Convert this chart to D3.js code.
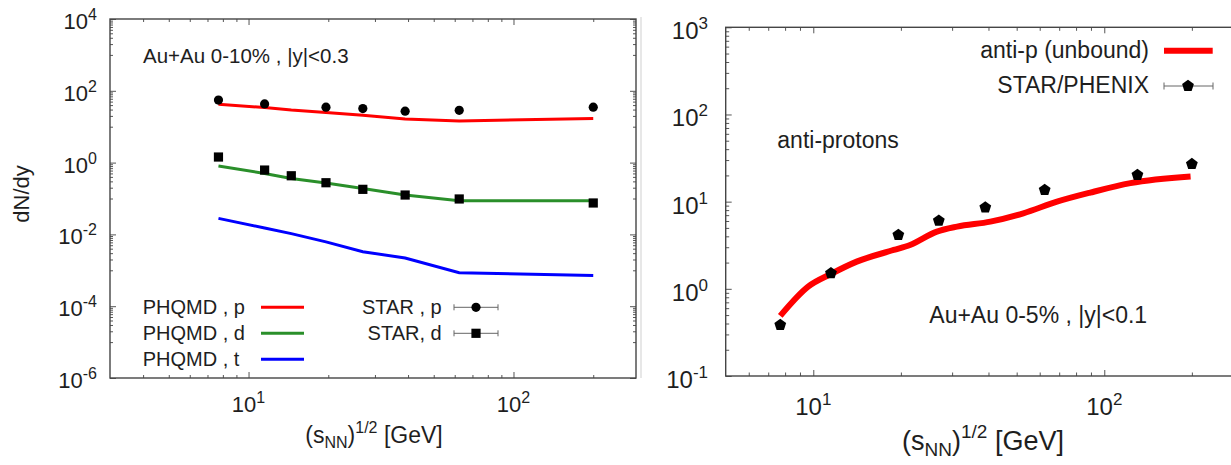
<!DOCTYPE html>
<html>
<head>
<meta charset="utf-8">
<script src="https://cdn.jsdelivr.net/npm/d3@7"></script>
<style>
  html, body { margin: 0; padding: 0; background: #fff; }
  svg { display: block; font-family: "Liberation Sans", Arial, Helvetica, sans-serif; }
</style>
</head>
<body>
<svg id="chart" width="1231" height="465"></svg>
<script>
// ---- Left panel: yields of p, d, t vs collision energy ----
const energies = [7.7, 11.5, 14.5, 19.6, 27, 39, 62.4, 200];
const phqmdP = [42, 34, 29, 25, 21, 16.4, 14.4, 17];
const phqmdD = [0.80, 0.50, 0.36, 0.27, 0.19, 0.125, 0.086, 0.086];
const phqmdT = [0.028, 0.015, 0.0105, 0.0062, 0.0033, 0.0022, 0.00086, 0.00072];

const starPEnergies = [7.7, 11.5, 19.6, 27, 39, 62.4, 200];
const starP = [55, 43, 35, 32, 27, 28.6, 35];
const starDEnergies = [7.7, 11.5, 14.5, 19.6, 27, 39, 62.4, 200];
const starD = [1.43, 0.62, 0.43, 0.275, 0.18, 0.125, 0.097, 0.075];

const leftYTickExp = [-6, -4, -2, 0, 2, 4];
const leftXTickExp = [1, 2];

// ---- Right panel: anti-protons vs collision energy ----
const pbarModelEnergies = [7.7, 9.6, 11.5, 14.1, 18.9, 21.5, 26.6, 31.2, 40.6, 52.7, 68.8, 89.5, 123, 198];
const pbarModel = [0.49, 1.06, 1.48, 2.05, 2.79, 3.18, 4.53, 5.17, 5.9, 7.36, 10.0, 12.7, 16.3, 19.4];
const pbarDataEnergies = [7.7, 11.5, 19.6, 27, 39, 62.4, 130, 200];
const pbarData = [0.385, 1.51, 4.15, 6.05, 8.6, 13.6, 20.2, 27];

const rightYTickExp = [-1, 0, 1, 2, 3];
const rightXTickExp = [1, 2];

const svg = d3.select("#chart");
const TEXT = "#1e1e1e";
const FRAME = "#454545";

// faint border of the left sub-figure
svg.append("line").attr("x1", 641).attr("x2", 641).attr("y1", 17).attr("y2", 378)
  .attr("stroke", "#cfcfcf").attr("stroke-width", 1);

function pentagonPath(r) {
  const pts = d3.range(5).map(i => {
    const a = -Math.PI / 2 + i * 2 * Math.PI / 5;
    return [r * Math.cos(a), r * Math.sin(a)];
  });
  return "M" + pts.map(p => p.join(",")).join("L") + "Z";
}

// log minor ticks m * 10^k for m = 2..9
function logMinors(kFrom, kTo) {
  const out = [];
  for (let k = kFrom; k <= kTo; k++) for (let m = 2; m <= 9; m++) out.push(m * Math.pow(10, k));
  return out;
}

function drawTicks(g, x, y, xMajor, xMinor, yMajor, yMinor, majLen, minLen) {
  const [x0, x1] = x.range();
  const [y1, y0] = y.range();
  const style = sel => {
    sel.select(".domain").remove();
    sel.selectAll("line").attr("stroke", "#555").attr("stroke-width", 1);
  };
  const mk = (axisFn, scale, vals, len, tx, ty) => {
    g.append("g").attr("transform", `translate(${tx},${ty})`)
      .call(axisFn(scale).tickValues(vals).tickSize(len).tickFormat(""))
      .call(style);
  };
  mk(d3.axisTop, x, xMajor, majLen, 0, y1);
  mk(d3.axisTop, x, xMinor, minLen, 0, y1);
  mk(d3.axisBottom, x, xMajor, majLen, 0, y0);
  mk(d3.axisBottom, x, xMinor, minLen, 0, y0);
  mk(d3.axisRight, y, yMajor, majLen, x0, 0);
  mk(d3.axisRight, y, yMinor, minLen, x0, 0);
  mk(d3.axisLeft, y, yMajor, majLen, x1, 0);
  mk(d3.axisLeft, y, yMinor, minLen, x1, 0);
  g.append("rect").attr("x", x0).attr("y", y0).attr("width", x1 - x0).attr("height", y1 - y0)
    .attr("fill", "none").attr("stroke", FRAME).attr("stroke-width", 1.4);
}

function powerLabel(g, x, y, exp, size, supSize, anchor, raise) {
  const t = g.append("text").attr("x", x).attr("y", y).attr("text-anchor", anchor)
    .attr("fill", TEXT).attr("font-size", size);
  t.append("tspan").text("10");
  t.append("tspan").attr("font-size", supSize).attr("dy", -raise).text(String(exp));
}

function energyTitle(g, cx, y, size, small, drop, raise) {
  const t = g.append("text").attr("x", cx).attr("y", y).attr("text-anchor", "middle")
    .attr("fill", TEXT).attr("font-size", size);
  t.append("tspan").text("(s");
  t.append("tspan").attr("font-size", small).attr("dy", drop).text("NN");
  t.append("tspan").attr("dy", -drop).text(")");
  t.append("tspan").attr("font-size", small).attr("dy", -raise).text("1/2");
  t.append("tspan").attr("dy", raise).text(" [GeV]");
}

// ================= Left panel =================
const xL = d3.scaleLog().domain([3, 290]).range([110, 636]);
const yL = d3.scaleLog().domain([1e-6, 1e4]).range([378, 19]);
const gL = svg.append("g");

const yLMinor = [];
leftYTickExp.slice(0, -1).forEach(k => { for (let m = 1; m <= 9; m++) yLMinor.push(m * Math.pow(10, k + 1)); });
drawTicks(gL, xL, yL,
  leftXTickExp.map(k => Math.pow(10, k)),
  [4, 5, 6, 7, 8, 9, 20, 30, 40, 50, 60, 70, 80, 90, 200],
  leftYTickExp.map(k => Math.pow(10, k)),
  yLMinor.filter(v => !leftYTickExp.some(k => Math.abs(Math.log10(v) - k) < 1e-9)),
  6, 3);

leftYTickExp.forEach(k => powerLabel(gL, 97, yL(Math.pow(10, k)) + 10, k, 22, 16, "end", 9));
leftXTickExp.forEach(k => powerLabel(gL, xL(Math.pow(10, k)), 412, k, 22, 16, "middle", 9));

energyTitle(gL, 374, 443, 23, 16, 5, 10);
gL.append("text").attr("transform", "translate(29,194) rotate(-90)").attr("text-anchor", "middle")
  .attr("fill", TEXT).attr("font-size", 22).text("dN/dy");

gL.append("text").attr("x", 143).attr("y", 63).attr("fill", TEXT).attr("font-size", 20.5)
  .text("Au+Au 0-10% , |y|<0.3");

const lineL = d3.line().x(d => xL(d[0])).y(d => yL(d[1]));
[[phqmdP, "#ff0000"], [phqmdD, "#2a8f2a"], [phqmdT, "#0000ff"]].forEach(([vals, col]) => {
  gL.append("path").datum(energies.map((e, i) => [e, vals[i]]))
    .attr("d", lineL).attr("fill", "none").attr("stroke", col).attr("stroke-width", 3);
});

gL.selectAll("circle.starp").data(starPEnergies.map((e, i) => [e, starP[i]])).join("circle")
  .attr("class", "starp").attr("cx", d => xL(d[0])).attr("cy", d => yL(d[1])).attr("r", 4.6).attr("fill", "#000");
gL.selectAll("rect.stard").data(starDEnergies.map((e, i) => [e, starD[i]])).join("rect")
  .attr("class", "stard").attr("x", d => xL(d[0]) - 4.6).attr("y", d => yL(d[1]) - 4.6)
  .attr("width", 9.2).attr("height", 9.2).attr("fill", "#000");

// legend, model lines
const legL = [["PHQMD , p", "#ff0000"], ["PHQMD , d", "#2a8f2a"], ["PHQMD , t", "#0000ff"]];
legL.forEach(([lab, col], i) => {
  const by = 314.3 + i * 26;
  gL.append("text").attr("x", 142.7).attr("y", by).attr("fill", TEXT).attr("font-size", 20).text(lab);
  gL.append("line").attr("x1", 261).attr("x2", 304).attr("y1", by - 7).attr("y2", by - 7)
    .attr("stroke", col).attr("stroke-width", 3);
});
// legend, data
function errLegend(g, x1, x2, cx, cy, cap, drawMarker) {
  g.append("line").attr("x1", x1).attr("x2", x2).attr("y1", cy).attr("y2", cy).attr("stroke", "#666").attr("stroke-width", 1);
  [x1, x2].forEach(x => g.append("line").attr("x1", x).attr("x2", x).attr("y1", cy - cap).attr("y2", cy + cap)
    .attr("stroke", "#666").attr("stroke-width", 1));
  drawMarker(cx, cy);
}
[["STAR , p", "c"], ["STAR, d", "s"]].forEach(([lab, m], i) => {
  const by = 313.8 + i * 26;
  gL.append("text").attr("x", 441.7).attr("y", by).attr("text-anchor", "end").attr("fill", TEXT)
    .attr("font-size", 20).text(lab);
  errLegend(gL, 454, 498, 476, by - 6.5, 3, (cx, cy) => {
    if (m === "c") gL.append("circle").attr("cx", cx).attr("cy", cy).attr("r", 4.6).attr("fill", "#000");
    else gL.append("rect").attr("x", cx - 4.6).attr("y", cy - 4.6).attr("width", 9.2).attr("height", 9.2).attr("fill", "#000");
  });
});

// ================= Right panel =================
const xR = d3.scaleLog().domain([5, 300]).range([725.7, 1243.1]);
const yR = d3.scaleLog().domain([0.1, 1000]).range([376, 27.3]);
const gR = svg.append("g");

drawTicks(gR, xR, yR,
  rightXTickExp.map(k => Math.pow(10, k)),
  [6, 7, 8, 9, 20, 30, 40, 50, 60, 70, 80, 90, 200],
  rightYTickExp.map(k => Math.pow(10, k)),
  logMinors(-1, 2),
  6, 3.5);

rightYTickExp.forEach(k => powerLabel(gR, 708, yR(Math.pow(10, k)) + 12, k, 24, 17, "end", 10));
rightXTickExp.forEach(k => powerLabel(gR, xR(Math.pow(10, k)), 415, k, 24, 17, "middle", 10));

energyTitle(gR, 983, 450, 27, 19, 6, 12);

gR.append("text").attr("x", 777.3).attr("y", 148.3).attr("fill", TEXT).attr("font-size", 23).text("anti-protons");
gR.append("text").attr("x", 929.3).attr("y", 322.7).attr("fill", TEXT).attr("font-size", 23).text("Au+Au 0-5% , |y|<0.1");

const lineR = d3.line().x(d => xR(d[0])).y(d => yR(d[1])).curve(d3.curveMonotoneX);
gR.append("path").datum(pbarModelEnergies.map((e, i) => [e, pbarModel[i]]))
  .attr("d", lineR).attr("fill", "none").attr("stroke", "#ff0000").attr("stroke-width", 6);

const pent = pentagonPath(6.2);
gR.selectAll("path.pbar").data(pbarDataEnergies.map((e, i) => [e, pbarData[i]])).join("path")
  .attr("class", "pbar").attr("d", pent).attr("fill", "#000")
  .attr("transform", d => `translate(${xR(d[0])},${yR(d[1])})`);

gR.append("text").attr("x", 1149).attr("y", 58.3).attr("text-anchor", "end").attr("fill", TEXT)
  .attr("font-size", 23).text("anti-p (unbound)");
gR.append("line").attr("x1", 1164).attr("x2", 1212.7).attr("y1", 50.7).attr("y2", 50.7)
  .attr("stroke", "#ff0000").attr("stroke-width", 6);
gR.append("text").attr("x", 1149).attr("y", 93.3).attr("text-anchor", "end").attr("fill", TEXT)
  .attr("font-size", 23).text("STAR/PHENIX");
errLegend(gR, 1164, 1213, 1188, 86, 3.5, (cx, cy) => {
  gR.append("path").attr("d", pent).attr("fill", "#000").attr("transform", `translate(${cx},${cy})`);
});
</script>
</body>
</html>
